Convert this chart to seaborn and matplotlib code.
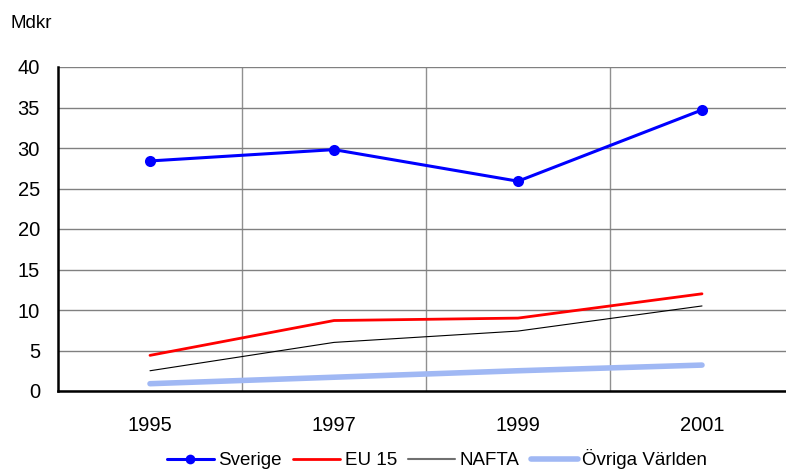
import numpy as np
import pandas as pd
import matplotlib.pyplot as plt
from matplotlib.lines import Line2D
import seaborn as sns

years = ['1995', '1997', '1999', '2001']
sverige = [28.4, 29.8, 25.9, 34.7]
eu15 = [4.4, 8.7, 9.0, 12.0]
nafta = [2.5, 6.0, 7.4, 10.5]
ovriga = [0.9, 1.7, 2.5, 3.2]

sns.set_style('white', {'text.color': 'black', 'xtick.color': 'black', 'ytick.color': 'black'})
plt.rcParams['font.family'] = ['Liberation Sans', 'DejaVu Sans']

fig = plt.figure(figsize=(7.86, 4.70), dpi=100)
ax = fig.add_axes([58 / 786, 79 / 470, 736 / 786, 324 / 470])

x = np.arange(len(years))
sns.lineplot(x=x, y=sverige, ax=ax, color='#0000ff', lw=2.2, marker='o', markersize=8,
             markeredgewidth=0, legend=False)
sns.lineplot(x=x, y=eu15, ax=ax, color='#ff0000', lw=2, legend=False)
sns.lineplot(x=x, y=nafta, ax=ax, color='black', lw=0.8, legend=False)
sns.lineplot(x=x, y=ovriga, ax=ax, color='#a0b8f4', lw=4, legend=False)

ax.set_xlim(-0.5, 3.5)
ax.set_ylim(0, 40)
ax.set_yticks(range(0, 41, 5))
ax.set_xticks(x)
ax.set_xticklabels(years)
ax.set_xticks([0.5, 1.5, 2.5], minor=True)
ax.grid(True, axis='y', color='#808080', lw=1)
ax.grid(True, axis='x', which='minor', color='#909090', lw=1)
ax.tick_params(axis='both', which='both', length=0, labelsize=14.5, labelcolor='black')
ax.tick_params(axis='x', pad=18)
ax.tick_params(axis='y', pad=13)
for s in ['top', 'right']:
    ax.spines[s].set_visible(False)
for s in ['left', 'bottom']:
    ax.spines[s].set_color('black')
    ax.spines[s].set_linewidth(1.8)

handles = [
    Line2D([], [], color='#0000ff', lw=2.2, marker='o', markersize=7, markeredgewidth=0),
    Line2D([], [], color='#ff0000', lw=2),
    Line2D([], [], color='#707070', lw=1.5),
    Line2D([], [], color='#a0b8f4', lw=4),
]
labels = ['Sverige', 'EU 15', 'NAFTA', 'Övriga Världen']
leg = ax.legend(handles, labels, loc='lower center', bbox_to_anchor=((437 - 58) / 736, -0.265),
                ncol=4, frameon=False, fontsize=13.5, handlelength=2.5, handletextpad=0.25,
                columnspacing=0.6, borderaxespad=0)
for t in leg.get_texts():
    t.set_color('black')

fig.text(10 / 786, 1 - 28 / 470, 'Mdkr', fontsize=13.5, color='black')

fig.savefig('out.png', dpi=100)
